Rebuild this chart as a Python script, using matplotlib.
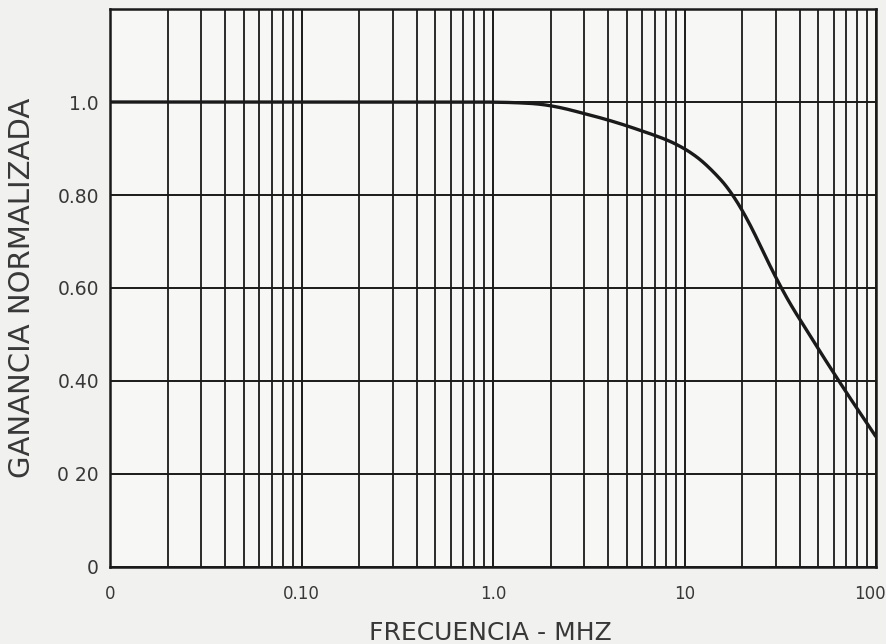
import matplotlib
matplotlib.use("Agg")
import matplotlib.pyplot as plt
from matplotlib.ticker import LogLocator, FixedLocator, NullFormatter
from matplotlib.transforms import offset_copy
import numpy as np

# frequency (MHz) and normalized gain
freq = [0.01, 0.1, 1.0, 1.5, 2, 3, 4, 6, 8, 10, 13, 15, 20, 25, 30, 40, 50, 60, 80, 100]
gain = [1.0, 1.0, 1.0, 0.998, 0.994, 0.975, 0.962, 0.938, 0.92, 0.903,
        0.868, 0.842, 0.778, 0.69, 0.615, 0.532, 0.47, 0.416, 0.34, 0.28]

xticks = [0.01, 0.1, 1.0, 10, 100]
xticklabels = ["0", "0.10", "1.0", "10", "100"]
yticks = [0, 0.2, 0.4, 0.6, 0.8, 1.0]
yticklabels = ["0", "0 20", "0.40", "0.60", "0.80", "1.0"]

bg = "#f1f1ef"
ink = "#1a1a1a"
txt = "#383838"

fig = plt.figure(figsize=(8.86, 6.44), dpi=100, facecolor=bg)
ax = fig.add_axes([0.1242, 0.1196, 0.8645, 0.8664])
ax.set_facecolor("#f7f7f5")

# smooth the hand-read points in log space
lf = np.log10(freq)
xs = np.linspace(lf[0], lf[-1], 800)
ys = np.interp(xs, lf, gain)
n = 45
k = np.ones(n) / n
ys_s = np.convolve(np.pad(ys, n // 2, mode="reflect", reflect_type="odd"), k, mode="valid")
ax.plot(10 ** xs, ys_s, color=ink, lw=2.4, zorder=3, solid_capstyle="butt")

ax.set_xscale("log")
ax.set_xlim(0.01, 100)
ax.set_ylim(0, 1.2)

ax.xaxis.set_major_locator(FixedLocator(xticks))
ax.set_xticklabels(xticklabels)
ax.xaxis.set_minor_locator(LogLocator(base=10, subs=np.arange(2, 10)))
ax.xaxis.set_minor_formatter(NullFormatter())
ax.set_yticks(yticks)
ax.set_yticklabels(yticklabels)

ax.grid(True, which="major", axis="both", color=ink, lw=1.4)
ax.grid(True, which="minor", axis="x", color=ink, lw=1.3)
ax.tick_params(which="both", length=0)
ax.tick_params(axis="x", pad=13, labelsize=12, labelcolor=txt)
ax.tick_params(axis="y", pad=8, labelsize=13.5, labelcolor=txt)

# last x label sits on the figure edge; nudge it inward
last = ax.get_xticklabels()[-1]
last.set_transform(offset_copy(last.get_transform(), fig=fig, x=-6, units="dots"))

for s in ax.spines.values():
    s.set_color(ink)
    s.set_linewidth(1.8)

ax.set_xlabel("FRECUENCIA - MHZ", fontsize=18, color=txt)
ax.set_ylabel("GANANCIA NORMALIZADA", fontsize=21, color=txt)
ax.xaxis.set_label_coords(0.497, -0.097)
ax.yaxis.set_label_coords(-0.097, 0.5)

fig.savefig("out.png", dpi=100, facecolor=bg)
